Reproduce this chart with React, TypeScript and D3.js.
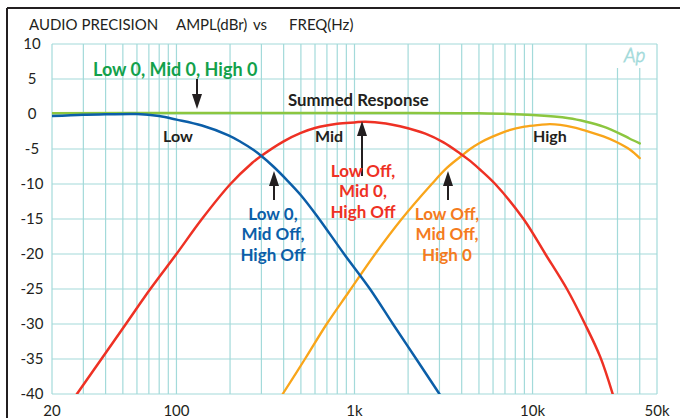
import React from "react";
import * as d3 from "d3";

// ---- Data (frequency in Hz, amplitude in dBr) ----
const lowFreq = [20, 30, 40, 60, 80, 100, 139, 196, 230, 266, 300, 350, 416, 500, 617, 874, 1222, 1644, 2223, 3000];
const lowDb = [-0.3, -0.1, -0.05, 0, -0.3, -0.8, -1.65, -3.05, -4.0, -5.0, -6.0, -7.5, -9.4, -11.6, -14.6, -20, -25, -30, -35, -40];

const midFreq = [27.6, 37.9, 52, 71.3, 100, 139, 201, 266, 295, 400, 500, 600, 800, 1000, 1150, 1500, 1800, 2500, 3160, 3900, 4460, 5000, 6170, 8900, 11800, 15600, 19700, 24000, 28200];
const midDb = [-40, -35, -30, -25, -20, -15, -10, -7.0, -6.1, -3.9, -2.7, -2.0, -1.4, -1.2, -1.1, -1.35, -1.75, -2.8, -4.05, -5.6, -6.7, -7.8, -10, -15, -20, -25, -30, -34.7, -40];

const highFreq = [395, 527, 698, 924, 1306, 1841, 2716, 3300, 3980, 4460, 5070, 6000, 7200, 9000, 11000, 12500, 14300, 17000, 20000, 25000, 29600, 35300, 40000];
const highDb = [-40, -35, -30, -25.5, -20, -15, -10, -7.7, -6.0, -5.0, -4.1, -3.2, -2.4, -1.8, -1.55, -1.45, -1.55, -1.9, -2.4, -3.2, -4.0, -5.1, -6.3];

const sumFreq = [20, 100, 1000, 5000, 10000, 16000, 20000, 25000, 31500, 35000, 40000];
const sumDb = [0.1, 0.15, 0.15, 0.1, -0.15, -0.6, -1.1, -1.8, -2.9, -3.5, -4.2];

const yTicks = [10, 5, 0, -5, -10, -15, -20, -25, -30, -35, -40];
const xTickValues = [20, 100, 1000, 10000, 50000];
const xTickLabels = ["20", "100", "1k", "10k", "50k"];
const gridFreqs = [
  20, 30, 40, 50, 60, 70, 80, 90,
  100, 200, 300, 400, 500, 600, 700, 800, 900,
  1000, 2000, 3000, 4000, 5000, 6000, 7000, 8000, 9000,
  10000, 20000, 30000, 40000, 50000,
];
const shortGridFreqs = [30000, 40000];

const FONT = "Lato, 'Open Sans', sans-serif";
const INK = "#231f20";
const GRID = "#a3dada";

const x = d3.scaleLog().domain([20, 50000]).range([52, 657]);
const y = d3.scaleLinear().domain([-40, 10]).range([394, 44]);

const line = d3
  .line<[number, number]>()
  .x((d) => x(d[0]))
  .y((d) => y(d[1]))
  .curve(d3.curveCatmullRom.alpha(0.5));

const zip = (f: number[], v: number[]) => f.map((fr, i) => [fr, v[i]] as [number, number]);

function Arrow({ cx, y1, y2 }: { cx: number; y1: number; y2: number }) {
  // y2 is the tip
  const dir = y2 > y1 ? 1 : -1;
  const headLen = 15;
  const headW = 5;
  const base = y2 - dir * headLen;
  return (
    <g>
      <line x1={cx} y1={y1} x2={cx} y2={base} stroke={INK} strokeWidth={2} />
      <path d={`M${cx - headW},${base} L${cx + headW},${base} L${cx},${y2} Z`} fill={INK} />
    </g>
  );
}

function MultiText({ lines, cx, y0, dy, fill, size }: { lines: string[]; cx: number; y0: number; dy: number; fill: string; size: number }) {
  return (
    <text fill={fill} fontFamily={FONT} fontWeight={700} fontSize={size} textAnchor="middle">
      {lines.map((l, i) => (
        <tspan key={i} x={cx} y={y0 + i * dy}>
          {l}
        </tspan>
      ))}
    </text>
  );
}

export default function App() {
  const [x0, x1] = x.range();
  const [yb, yt] = y.range();
  return (
    <svg width={680} height={418} style={{ position: "absolute", left: 0, top: 0, background: "#fff" }}>
      <defs>
        <clipPath id="plot">
          <rect x={x0} y={yt} width={x1 - x0} height={yb - yt} />
        </clipPath>
      </defs>
      {/* frame */}
      <line x1={7} y1={8} x2={680} y2={8} stroke={INK} strokeWidth={2} />
      <line x1={7} y1={8} x2={7} y2={418} stroke={INK} strokeWidth={2} />

      {/* title */}
      <g fontFamily={FONT} fontSize={15} fill={INK}>
        <text x={29} y={30}>AUDIO PRECISION</text>
        <text x={176} y={30}>AMPL(dBr)</text>
        <text x={253} y={30}>vs</text>
        <text x={289} y={30}>FREQ(Hz)</text>
      </g>

      {/* grid */}
      <g stroke={GRID} strokeWidth={1.2}>
        {yTicks.map((t) => (
          <line key={"h" + t} x1={x0} x2={x1} y1={y(t)} y2={y(t)} />
        ))}
        {gridFreqs.map((f) => (
          <line key={"v" + f} x1={x(f)} x2={x(f)} y1={shortGridFreqs.includes(f) ? 68 : yt} y2={yb} />
        ))}
      </g>
      <text x={624} y={62} fontFamily={FONT} fontStyle="italic" fontWeight={300} fontSize={19} fill="none" stroke={GRID} strokeWidth={0.8}>
        Ap
      </text>

      {/* axis labels */}
      <g fontFamily={FONT} fontSize={15} fill={INK} textAnchor="middle">
        {yTicks.map((t) => (
          <text key={"yl" + t} x={32} y={y(t) + 5}>
            {t}
          </text>
        ))}
        {xTickValues.map((f, i) => (
          <text key={"xl" + f} x={x(f)} y={416}>
            {xTickLabels[i]}
          </text>
        ))}
      </g>

      {/* curves */}
      <g clipPath="url(#plot)" fill="none" strokeLinejoin="round" strokeLinecap="round">
        <path d={line(zip(sumFreq, sumDb)) || ""} stroke="#8cc63f" strokeWidth={2.5} />
        <path d={line(zip(highFreq, highDb)) || ""} stroke="#f9a51a" strokeWidth={2.3} />
        <path d={line(zip(midFreq, midDb)) || ""} stroke="#ee3124" strokeWidth={2.5} />
        <path d={line(zip(lowFreq, lowDb)) || ""} stroke="#0b5ea8" strokeWidth={2.5} />
      </g>

      {/* annotations */}
      <text x={93} y={76} fill="#12a14b" fontFamily={FONT} fontWeight={700} fontSize={18}>
        Low 0, Mid 0, High 0
      </text>
      <Arrow cx={197} y1={79} y2={109} />

      <g fontFamily={FONT} fontWeight={700} fill={INK}>
        <text x={288} y={106} fontSize={16.8}>Summed Response</text>
        <text x={163} y={142} fontSize={16}>Low</text>
        <text x={315} y={142} fontSize={16}>Mid</text>
        <text x={533} y={142} fontSize={16}>High</text>
      </g>

      <Arrow cx={362} y1={176} y2={121} />
      <MultiText lines={["Low Off,", "Mid 0,", "High Off"]} cx={363} y0={177} dy={20.3} fill="#ee3124" size={17} />

      <Arrow cx={274} y1={200} y2={171} />
      <MultiText lines={["Low 0,", "Mid Off,", "High Off"]} cx={273} y0={220} dy={20.3} fill="#0b5ea8" size={17} />

      <Arrow cx={448} y1={200} y2={171} />
      <MultiText lines={["Low Off,", "Mid Off,", "High 0"]} cx={447} y0={220} dy={20.3} fill="#f47b20" size={17} />
    </svg>
  );
}
